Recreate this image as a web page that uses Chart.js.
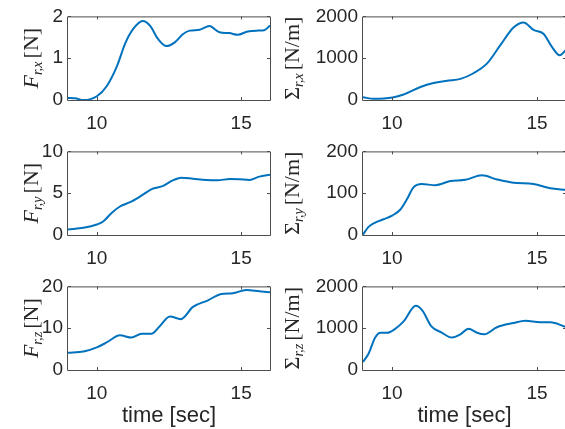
<!DOCTYPE html>
<html>
<head>
<meta charset="utf-8">
<script src="https://cdn.jsdelivr.net/npm/chart.js@4/dist/chart.umd.min.js"></script>
<style>
  html, body { margin: 0; padding: 0; background: #fff; overflow: hidden; }
  #wrap { position: relative; width: 565px; height: 429px; overflow: hidden; }
  canvas { position: absolute; }
</style>
</head>
<body>
<div id="wrap">
  <canvas id="fx" width="280" height="135" style="left:0;top:0"></canvas>
  <canvas id="sx" width="286" height="135" style="left:280px;top:0"></canvas>
  <canvas id="fy" width="280" height="135" style="left:0;top:135px"></canvas>
  <canvas id="sy" width="286" height="135" style="left:280px;top:135px"></canvas>
  <canvas id="fz" width="280" height="159" style="left:0;top:270px"></canvas>
  <canvas id="sz" width="286" height="159" style="left:280px;top:270px"></canvas>
</div>
<script>
// time axis ticks (sec)
const xTicks = [10, 15];

// F_r,x [N]
const tFx = [9.0, 9.25, 9.54, 10.0, 10.34, 10.69, 10.98, 11.26, 11.59, 11.84, 12.12, 12.41, 12.7, 12.99, 13.22, 13.56, 13.9, 14.25, 14.59, 14.88, 15.23, 15.57, 15.8, 16.0];
const Fx  = [0.05, 0.04, 0.0, 0.09, 0.33, 0.8, 1.35, 1.70, 1.89, 1.78, 1.46, 1.29, 1.38, 1.58, 1.66, 1.68, 1.77, 1.62, 1.6, 1.56, 1.64, 1.66, 1.67, 1.78];
const yTicksFx = [0, 1, 2];

// Sigma_r,x [N/m]
const tSx = [9.0, 9.37, 10.02, 10.4, 10.98, 11.43, 11.9, 12.36, 12.81, 13.28, 13.73, 14.19, 14.54, 14.88, 15.23, 15.52, 15.78, 16.0];
const Sx  = [66, 28, 59, 130, 310, 405, 460, 505, 640, 875, 1305, 1735, 1855, 1675, 1580, 1265, 1070, 1200];
const yTicksSx = [0, 1000, 2000];

// F_r,y [N]
const tFy = [9.0, 9.54, 10.0, 10.23, 10.52, 10.8, 11.15, 11.49, 11.9, 12.3, 12.59, 12.93, 13.33, 13.79, 14.19, 14.6, 14.94, 15.29, 15.63, 16.0];
const Fy  = [0.67, 0.86, 1.26, 1.65, 2.67, 3.41, 3.92, 4.59, 5.49, 5.88, 6.47, 6.86, 6.74, 6.59, 6.55, 6.7, 6.67, 6.59, 6.98, 7.2];
const yTicksFy = [0, 5, 10];

// Sigma_r,y [N/m]
const tSy = [9.0, 9.19, 9.42, 9.71, 10.02, 10.29, 10.52, 10.74, 11.03, 11.49, 12.01, 12.53, 13.1, 13.62, 14.19, 14.88, 15.46, 16.0];
const Sy  = [1, 19.5, 29.8, 37.6, 47, 61, 86, 114, 122, 119, 129, 132, 143, 133, 125, 122, 112, 108];
const yTicksSy = [0, 100, 200];

// F_r,z [N]
const tFz = [9.0, 9.54, 10.0, 10.34, 10.8, 11.2, 11.55, 11.9, 12.18, 12.53, 12.91, 13.33, 13.85, 14.31, 14.71, 15.17, 15.63, 16.0];
const Fz  = [4.1, 4.42, 5.42, 6.59, 8.29, 7.75, 8.68, 8.68, 10.47, 12.8, 12.17, 15.1, 16.67, 18.2, 18.37, 19.14, 18.84, 18.6];
const yTicksFz = [0, 10, 20];

// Sigma_r,z [N/m]
const tSz = [9.0, 9.19, 9.42, 9.6, 9.83, 10.11, 10.4, 10.82, 11.05, 11.35, 11.7, 12.07, 12.36, 12.64, 12.93, 13.18, 13.62, 14.19, 14.6, 15.11, 15.46, 16.0];
const Sz  = [193, 388, 775, 891, 891, 984, 1163, 1535, 1420, 1050, 900, 775, 853, 984, 891, 853, 1023, 1124, 1178, 1140, 1140, 1030];
const yTicksSz = [0, 1000, 2000];

const lineColor = '#0072BD';
const textColor = '#262626';
const frameColor = '#4d4d4d';
const tickFont = { family: '"Liberation Sans", Arial, Helvetica, sans-serif', size: 19 };

// draws the MATLAB style box, inward ticks and the LaTeX-ish y label
const matlabAxes = {
  id: 'matlabAxes',
  afterDatasetsDraw(chart, args, opts) {
    const { ctx, chartArea: a, scales: { x, y } } = chart;
    const tl = 3;
    ctx.save();
    ctx.strokeStyle = frameColor;
    ctx.lineWidth = 1;
    ctx.beginPath();
    ctx.rect(a.left - 0.5, a.top + 0.5, a.right - a.left + 1, a.bottom - a.top);
    x.ticks.forEach(t => {
      const px = Math.round(x.getPixelForValue(t.value)) + 0.5;
      ctx.moveTo(px, a.bottom); ctx.lineTo(px, a.bottom - tl);
      ctx.moveTo(px, a.top); ctx.lineTo(px, a.top + tl);
    });
    y.ticks.forEach(t => {
      const py = Math.round(y.getPixelForValue(t.value)) + 0.5;
      ctx.moveTo(a.left, py); ctx.lineTo(a.left + tl, py);
      ctx.moveTo(a.right, py); ctx.lineTo(a.right - tl, py);
    });
    ctx.stroke();

    // y label: symbol, subscript, unit
    const big = '22px "Liberation Serif", "Times New Roman", serif';
    const small = 'italic 14px "Liberation Serif", "Times New Roman", serif';
    const symFont = (opts.italic ? 'italic ' : '') + big;
    ctx.font = symFont; const w1 = ctx.measureText(opts.sym).width;
    ctx.font = small; const w2 = ctx.measureText(opts.sub).width;
    ctx.font = big; const w3 = ctx.measureText(opts.unit).width;
    const gap = 3;
    const total = w1 + w2 + gap + w3;
    ctx.translate(opts.labelX, (a.top + a.bottom) / 2);
    ctx.rotate(-Math.PI / 2);
    ctx.fillStyle = textColor;
    ctx.textAlign = 'left';
    ctx.textBaseline = 'alphabetic';
    let p = -total / 2;
    ctx.font = symFont; ctx.fillText(opts.sym, p, 0); p += w1;
    ctx.font = small; ctx.fillText(opts.sub, p, 4); p += w2 + gap;
    ctx.font = big; ctx.fillText(opts.unit, p, 0);
    ctx.restore();
  }
};

function panel(id, t, v, yTicks, label, box) {
  new Chart(document.getElementById(id), {
    type: 'line',
    data: {
      datasets: [{
        data: t.map((tt, i) => ({ x: tt, y: v[i] })),
        borderColor: lineColor,
        borderWidth: 2,
        pointRadius: 0,
        fill: false,
        cubicInterpolationMode: 'monotone'
      }]
    },
    options: {
      responsive: false,
      animation: false,
      devicePixelRatio: 1,
      layout: { padding: { top: box.top, right: box.right, bottom: 0, left: 0 } },
      plugins: {
        legend: { display: false },
        tooltip: { enabled: false },
        matlabAxes: label
      },
      scales: {
        x: {
          type: 'linear',
          min: 9, max: 16,
          afterBuildTicks: s => { s.ticks = xTicks.map(val => ({ value: val })); },
          afterFit: s => { s.height = box.xH; },
          grid: { display: false, drawTicks: false },
          border: { display: false },
          ticks: { font: tickFont, color: textColor, padding: 12, maxRotation: 0, callback: val => String(val) },
          title: {
            display: box.title,
            text: 'time [sec]',
            color: textColor,
            font: { family: '"Liberation Sans", Arial, Helvetica, sans-serif', size: 22 },
            padding: { top: 0, bottom: 0 }
          }
        },
        y: {
          type: 'linear',
          min: yTicks[0], max: yTicks[yTicks.length - 1],
          afterBuildTicks: s => { s.ticks = yTicks.map(val => ({ value: val })); },
          afterFit: s => { s.width = box.yW; },
          grid: { display: false, drawTicks: false },
          border: { display: false },
          ticks: { font: tickFont, color: textColor, padding: 5, callback: val => String(val) }
        }
      }
    },
    plugins: [matlabAxes]
  });
}

const leftTop = { top: 15, right: 10, xH: 35, yW: 68, title: false };
const rightTop = { top: 15, right: 0, xH: 35, yW: 83, title: false };
const leftBottom = { top: 14, right: 10, xH: 59, yW: 68, title: true };
const rightBottom = { top: 14, right: 0, xH: 59, yW: 83, title: true };

panel('fx', tFx, Fx, yTicksFx, { sym: 'F', italic: true, sub: 'r,x', unit: '[N]', labelX: 38 }, leftTop);
panel('sx', tSx, Sx, yTicksSx, { sym: 'Σ', italic: false, sub: 'r,x', unit: '[N/m]', labelX: 19 }, rightTop);
panel('fy', tFy, Fy, yTicksFy, { sym: 'F', italic: true, sub: 'r,y', unit: '[N]', labelX: 38 }, leftTop);
panel('sy', tSy, Sy, yTicksSy, { sym: 'Σ', italic: false, sub: 'r,y', unit: '[N/m]', labelX: 19 }, rightTop);
panel('fz', tFz, Fz, yTicksFz, { sym: 'F', italic: true, sub: 'r,z', unit: '[N]', labelX: 38 }, leftBottom);
panel('sz', tSz, Sz, yTicksSz, { sym: 'Σ', italic: false, sub: 'r,z', unit: '[N/m]', labelX: 19 }, rightBottom);
</script>
</body>
</html>
